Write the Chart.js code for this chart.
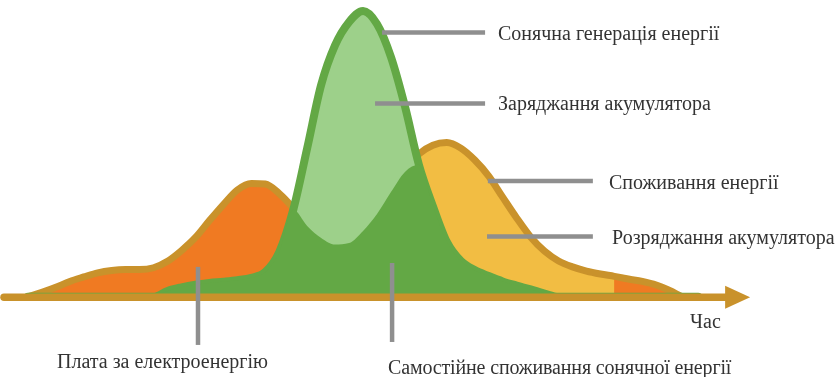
<!DOCTYPE html>
<html lang="uk">
<head>
<meta charset="utf-8">
<title>Сонячна генерація та споживання енергії</title>
<script src="https://cdn.jsdelivr.net/npm/chart.js@4.4.1/dist/chart.umd.min.js"></script>
<style>
  html, body { margin: 0; padding: 0; background: #fff; }
  #wrap { position: relative; width: 835px; height: 377px; }
  .lbl {
    position: absolute;
    font-family: "Liberation Serif", "Times New Roman", serif;
    font-size: 20px;
    line-height: 20px;
    color: #333;
    white-space: nowrap;
  }
</style>
</head>
<body>
<div id="wrap">
  <canvas id="energyChart"></canvas>
  <div class="lbl" style="left:498px; top:23px">Сонячна генерація енергії</div>
  <div class="lbl" style="left:498px; top:93px">Заряджання акумулятора</div>
  <div class="lbl" style="left:609px; top:172px">Споживання енергії</div>
  <div class="lbl" style="left:612px; top:227px">Розряджання акумулятора</div>
  <div class="lbl" style="left:57px; top:351px">Плата за електроенергію</div>
  <div class="lbl" style="left:388px; top:357px; letter-spacing:-0.15px">Самостійне споживання сонячної енергії</div>
  <div class="lbl" style="left:690px; top:311px">Час</div>
</div>
<script>
// час доби, години (крок 0.5)
const hours = [0, 0.5, 1, 1.5, 2, 2.5, 3, 3.5, 4, 4.5, 5, 5.5, 6, 6.5, 7, 7.5, 8, 8.5, 9, 9.5,
  10, 10.5, 11, 11.5, 12, 12.5, 13, 13.5, 14, 14.5, 15, 15.5, 16, 16.5, 17, 17.5, 18, 18.5, 19, 19.5,
  20, 20.5, 21, 21.5, 22, 22.5, 23, 23.5, 24];

// споживання енергії
const consumption = [0, 1.5, 3.2, 5.2, 6.7, 8.1, 8.9, 9.2, 9.2, 9.8, 12, 15.6, 20, 25.7, 31.1, 36, 38.2, 38, 34.8, 29.9,
  23.9, 19.8, 17.6, 18.1, 22.2, 27.9, 35.3, 42.1, 48.1, 51.1, 52, 50.1, 46.1, 40.7, 33.6, 26.6, 20.2, 15.4, 12.1, 10.1,
  8.7, 7.7, 6.9, 6, 5.2, 4, 2.1, 0, 0];

// сонячна генерація
const solar = [0, 0, 0, 0, 0, 0, 0, 0, 0, 0, 2, 3.2, 4.1, 4.7, 5.1, 5.6, 6.4, 8.4, 15.1, 29.3,
  50.1, 71.4, 84.8, 92.6, 96.3, 91.9, 80.8, 64.2, 44.5, 30.6, 18.5, 12.1, 9, 7, 5.2, 3.8, 2.5, 1.1, 0, 0,
  0, 0, 0, 0, 0, 0, 0, 0, 0];

// розряджання акумулятора (верхня межа — споживання, поки акумулятор не порожній)
const discharge = [null, null, null, null, null, null, null, null, null, null, null, null, null, null, null, null, null, null, null, null,
  null, null, null, null, null, null, null, null, 48.1, 51.1, 52, 50.1, 46.1, 40.7, 33.6, 26.6, 20.2, 15.4, 12.1, 10.1,
  8.7, 7.7, 6.9, null, null, null, null, null, null];

// самостійне споживання = менше з генерації та споживання
const selfUse = solar.map((v, i) => Math.min(v, consumption[i]));

const GOLD = '#C9922B';
const ORANGE = '#F07A22';
const YELLOW = '#F2BD43';
const GREEN = '#63A845';
const LIGHT_GREEN = '#9DD08A';
const GREY = '#8F8F8F';

const toPoints = arr => hours.map((h, i) => ({ x: h, y: arr[i] }));

// виноски: [година, значення] -> [година, значення]
const leaders = [
  [[12.68, 89.05], [16.37, 89.05]],
  [[12.43, 65.1], [16.37, 65.1]],
  [[16.47, 39.0], [20.23, 39.0]],
  [[16.44, 20.3], [20.23, 20.3]],
  [[6.09, 10.1], [6.09, -16.2]],
  [[13.04, 11.4], [13.04, -15.2]]
];

const guidesPlugin = {
  id: 'guides',
  afterDatasetsDraw(chart) {
    const { ctx, scales: { x, y } } = chart;
    const y0 = y.getPixelForValue(0) + 0.5;
    ctx.save();
    // вісь часу зі стрілкою
    const tip = x.getPixelForValue(25.86);
    ctx.strokeStyle = GOLD;
    ctx.lineWidth = 7.5;
    ctx.lineCap = 'round';
    ctx.beginPath();
    ctx.moveTo(x.getPixelForValue(-0.857), y0);
    ctx.lineTo(tip - 22, y0);
    ctx.stroke();
    ctx.fillStyle = GOLD;
    ctx.beginPath();
    ctx.moveTo(tip - 25, y0 - 11.5);
    ctx.lineTo(tip, y0);
    ctx.lineTo(tip - 25, y0 + 11.5);
    ctx.closePath();
    ctx.fill();
    // виноски
    ctx.strokeStyle = GREY;
    ctx.lineWidth = 4.5;
    ctx.lineCap = 'butt';
    leaders.forEach(([a, b]) => {
      ctx.beginPath();
      ctx.moveTo(x.getPixelForValue(a[0]), y.getPixelForValue(a[1]));
      ctx.lineTo(x.getPixelForValue(b[0]), y.getPixelForValue(b[1]));
      ctx.stroke();
    });
    ctx.restore();
  }
};

const ctx = document.getElementById('energyChart').getContext('2d');
const energyChart = new Chart(ctx, {
  type: 'line',
  data: {
    datasets: [
      {
        label: 'Плата за електроенергію',
        data: toPoints(consumption),
        backgroundColor: ORANGE,
        borderWidth: 0,
        fill: 'origin',
        order: 6
      },
      {
        label: 'Розряджання акумулятора',
        data: toPoints(discharge),
        backgroundColor: YELLOW,
        borderWidth: 0,
        fill: 'origin',
        spanGaps: false,
        order: 5
      },
      {
        label: 'Споживання енергії',
        data: toPoints(consumption),
        borderColor: GOLD,
        borderWidth: 7,
        fill: false,
        order: 4
      },
      {
        label: 'Сонячна генерація енергії',
        data: toPoints(solar),
        borderColor: GREEN,
        backgroundColor: LIGHT_GREEN,
        borderWidth: 8,
        fill: 'origin',
        order: 3
      },
      {
        label: 'Самостійне споживання сонячної енергії',
        data: toPoints(selfUse),
        backgroundColor: GREEN,
        borderWidth: 0,
        fill: 'origin',
        order: 2
      }
    ]
  },
  options: {
    responsive: true,
    maintainAspectRatio: false,
    animation: false,
    layout: { padding: 0 },
    elements: {
      point: { radius: 0, hoverRadius: 0 },
      line: { cubicInterpolationMode: 'monotone', borderJoinStyle: 'round', borderCapStyle: 'round' }
    },
    datasets: { line: { clip: false } },
    plugins: {
      legend: { display: false },
      tooltip: { enabled: false }
    },
    scales: {
      x: { type: 'linear', min: -1, max: 28.9, display: false },
      y: { min: -27, max: 100, display: false }
    }
  },
  plugins: [guidesPlugin]
});
</script>
</body>
</html>
